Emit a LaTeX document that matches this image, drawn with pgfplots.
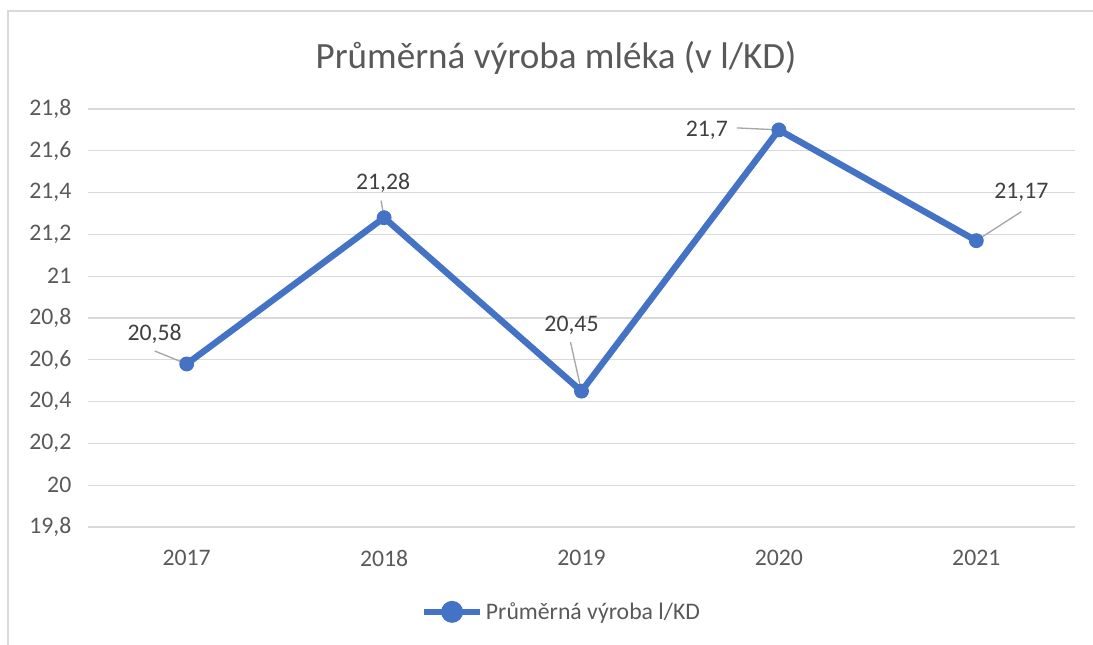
\documentclass[border=0pt]{standalone}
\usepackage{pgfplots}
\pgfplotsset{compat=1.18}
\usepackage{fontspec}
\setmainfont{Carlito}
\definecolor{excelblue}{HTML}{4472C4}
\definecolor{txtgray}{HTML}{595959}
\definecolor{lblgray}{HTML}{404040}
\definecolor{gridgray}{HTML}{D9D9D9}
\definecolor{leadgray}{HTML}{A6A6A6}
\begin{document}
\begin{tikzpicture}[x=0.75pt,y=0.75pt]
\useasboundingbox (0,0) rectangle (1093,644);
\draw[gridgray, line width=1pt] (8,-5) -- (8,633) -- (1100,633);
\node[txtgray, font=\fontsize{27.8}{33}\selectfont] at (556,586) {Průměrná výroba mléka (v l/KD)};
\begin{axis}[
  at={(66pt,87.75pt)}, anchor=south west,
  scale only axis, width=740.25pt, height=313.5pt,
  xmin=-0.5, xmax=4.5, ymin=19.8, ymax=21.8,
  xtick={0,1,2,3,4}, xticklabels={2017,2018,2019,2020,2021},
  ytick={19.8,20,20.2,20.4,20.6,20.8,21,21.2,21.4,21.6,21.8},
  ymajorgrids, grid style={gridgray, line width=1pt},
  axis line style={draw=none}, major tick length=0pt,
  tick label style={txtgray, font=\fontsize{17.8}{20}\selectfont},
  /pgf/number format/assume math mode=true,
  /pgf/number format/use comma, /pgf/number format/fixed,
  yticklabel style={anchor=east, xshift=-9pt},
  xticklabel style={yshift=-14pt},
  clip=false,
  legend style={draw=none, fill=none, at={(0.48,-0.203)}, anchor=center,
    font=\fontsize{17.8}{20}\selectfont, text=txtgray, inner sep=0pt},
  legend image code/.code={\draw[excelblue, line width=4.8pt] (0pt,0pt) -- (42pt,0pt);
    \fill[excelblue] (21pt,0pt) circle (5.8pt);},
]
\addplot[excelblue, line width=4.8pt, mark=*, mark size=5.2pt, mark options={line width=0.75pt, fill=excelblue}]
  coordinates {(0,20.58) (1,21.28) (2,20.45) (3,21.7) (4,21.17)};
\addlegendentry{Průměrná výroba l/KD}
% leader lines
\draw[leadgray, line width=1pt] ([xshift=-24pt,yshift=9.75pt]axis cs:0,20.58) -- (axis cs:0,20.58);
\draw[leadgray, line width=1pt] ([xshift=-2.25pt,yshift=12.75pt]axis cs:1,21.28) -- (axis cs:1,21.28);
\draw[leadgray, line width=1pt] ([xshift=-8.25pt,yshift=36.75pt]axis cs:2,20.45) -- (axis cs:2,20.45);
\draw[leadgray, line width=1pt] ([xshift=-31.5pt,yshift=1.5pt]axis cs:3,21.7) -- (axis cs:3,21.7);
\draw[leadgray, line width=1pt] ([xshift=33.75pt,yshift=21.75pt]axis cs:4,21.17) -- (axis cs:4,21.17);
% data labels
\tikzset{dl/.style={lblgray, font=\fontsize{17.8}{20}\selectfont, inner sep=0pt}}
\node[dl] at ([xshift=-24pt,yshift=22.5pt]axis cs:0,20.58) {20,58};
\node[dl] at ([xshift=-0.75pt,yshift=26.25pt]axis cs:1,21.28) {21,28};
\node[dl] at ([xshift=-7.5pt,yshift=49.5pt]axis cs:2,20.45) {20,45};
\node[dl] at ([xshift=-54pt,yshift=0pt]axis cs:3,21.7) {21,7};
\node[dl] at ([xshift=33.75pt,yshift=36pt]axis cs:4,21.17) {21,17};
\end{axis}
\end{tikzpicture}
\end{document}
